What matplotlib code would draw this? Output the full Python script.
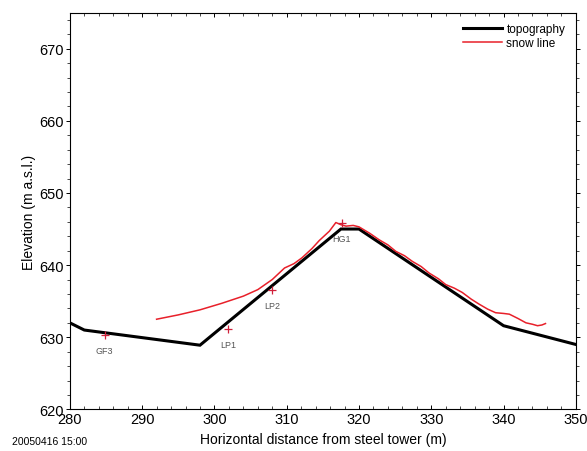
import matplotlib
matplotlib.use("Agg")
import matplotlib.pyplot as plt
from matplotlib.ticker import MultipleLocator

plt.rcParams['font.family'] = ['Liberation Sans', 'DejaVu Sans']

topo_x = [280, 282, 298, 317.5, 320, 340, 350]
topo_y = [632.0, 631.0, 628.9, 645.0, 645.0, 631.6, 629.0]

snow_x = [292, 295, 298, 301, 304, 306, 308, 309.7, 311, 312.1, 313.5, 314.5, 315.9, 316.8,
          317.5, 318.2, 319.2, 320.0, 321.5, 322.8, 324.0, 325.1, 326.3, 327.4, 328.6, 329.7,
          331.0, 332.0, 333.2, 334.3, 335.5, 336.6, 337.8, 338.9, 340.0, 340.8, 342.0, 343.1,
          344.0, 344.7, 345.3, 345.8]
snow_y = [632.5, 633.1, 633.8, 634.7, 635.7, 636.6, 638.0, 639.6, 640.2, 641.0, 642.3, 643.4,
          644.7, 645.9, 645.6, 645.4, 645.5, 645.3, 644.4, 643.5, 642.8, 641.9, 641.3, 640.5,
          639.8, 638.9, 638.1, 637.3, 636.8, 636.2, 635.3, 634.6, 633.9, 633.4, 633.3, 633.2,
          632.6, 632.0, 631.8, 631.6, 631.7, 631.9]

probe_names = ["GF3", "LP1", "LP2", "HG1"]
probe_x = [284.8, 301.9, 308.0, 317.6]
probe_y = [630.3, 631.2, 636.6, 645.8]

fig = plt.figure(figsize=(5.87, 4.52), dpi=100)
ax = fig.add_axes([0.119, 0.092, 0.862, 0.878])

ax.plot(topo_x, topo_y, color='black', lw=2.2, label='topography', solid_joinstyle='miter')
ax.plot(snow_x, snow_y, color='#e8202a', lw=1.1, label='snow line')
ax.plot(probe_x, probe_y, ls='none', marker='+', color='#d0203a', ms=6, mew=0.9)
for n, x, y in zip(probe_names, probe_x, probe_y):
    ax.annotate(n, (x, y), xytext=(0, -8), textcoords='offset points',
                ha='center', va='top', fontsize=6.5, color='#555555')

ax.set_xlim(280, 350)
ax.set_ylim(620, 675)
ax.xaxis.set_major_locator(MultipleLocator(10))
ax.xaxis.set_minor_locator(MultipleLocator(2))
ax.yaxis.set_minor_locator(MultipleLocator(2))
ax.set_yticks([620, 630, 640, 650, 660, 670])
ax.tick_params(which='both', top=True, right=True, direction='in', labelsize=10.5)
ax.tick_params(axis='y', which='both', left=True, direction='out', pad=1.5)
ax.tick_params(axis='x', pad=2)
ax.tick_params(which='major', length=3, width=0.7)
ax.tick_params(which='minor', length=2, width=0.5)
for s in ax.spines.values():
    s.set_linewidth(0.8)

ax.set_xlabel('Horizontal distance from steel tower (m)', fontsize=10, labelpad=4)
ax.set_ylabel('Elevation (m a.s.l.)', fontsize=10, labelpad=2)

leg = ax.legend(loc='upper right', frameon=False, fontsize=8.5, handlelength=3.3,
                handletextpad=0.4, labelspacing=0.15, borderaxespad=0.5)

fig.text(0.02, 0.012, '20050416 15:00', fontsize=7.5, ha='left', va='bottom')

fig.savefig('out.png', dpi=100)
